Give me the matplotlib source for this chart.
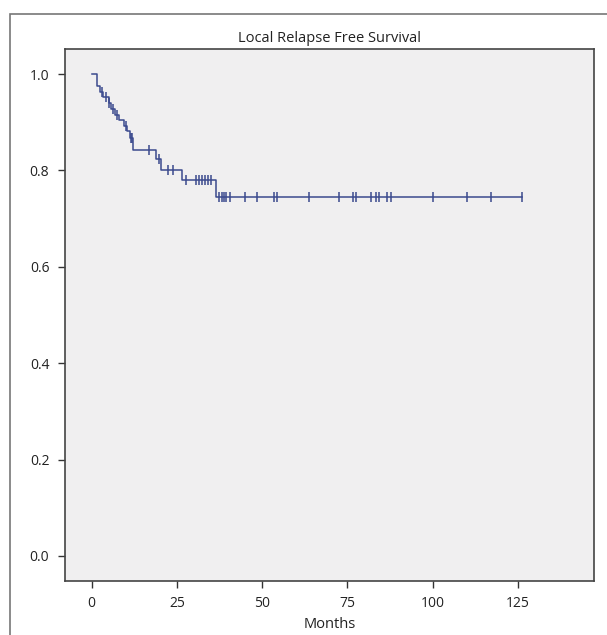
import numpy as np
import matplotlib
matplotlib.use("Agg")
import matplotlib.pyplot as plt
from matplotlib.patches import Rectangle

# step function: time of drop (months) and survival after it
step_times = [0, 1.5, 2.5, 3.5, 5.0, 5.6, 7.0, 8.0, 9.5, 10.5, 11.2, 12.2, 19.0, 20.5, 26.6, 36.5]
step_surv = [1.0, 0.976, 0.963, 0.952, 0.940, 0.928, 0.916, 0.905, 0.893, 0.881, 0.868, 0.843,
             0.824, 0.800, 0.781, 0.745]
# censored observations (months)
censored = [3.0, 4.3, 5.2, 6.2, 7.5, 10.2, 11.5, 12.0, 16.8, 19.8, 22.3, 24.0, 27.7,
            30.5, 31.5, 32.4, 33.3, 34.1, 35.0, 37.4, 38.2, 38.8, 39.4, 40.6, 45.0, 48.4,
            53.5, 54.5, 63.7, 72.6, 76.6, 77.4, 81.8, 83.3, 84.3, 86.7, 87.7, 100.0,
            110.2, 117.0, 126.3]
last_time = 126.3

plt.rcParams['font.family'] = ['Open Sans', 'DejaVu Sans']
line_col = '#3b4a8e'

fig = plt.figure(figsize=(6.07, 6.35), dpi=100)
ax = fig.add_axes([0.1064, 0.085, 0.8722, 0.8378])
ax.set_facecolor('#f0eff0')

xs = step_times + [last_time]
ys = step_surv + [step_surv[-1]]
ax.step(xs, ys, where='post', color=line_col, lw=1.1)

cidx = np.searchsorted(step_times, censored, side='right') - 1
cy = np.array(step_surv)[cidx]
ax.plot(censored, cy, linestyle='none', marker='|', markersize=7, mew=1.1, color=line_col)

ax.set_xlim(-7.9, 147.3)
ax.set_ylim(-0.052, 1.052)
ax.set_xticks([0, 25, 50, 75, 100, 125])
ax.set_yticks([0.0, 0.2, 0.4, 0.6, 0.8, 1.0])
ax.set_yticklabels(['0.0', '0.2', '0.4', '0.6', '0.8', '1.0'])
ax.tick_params(length=5, width=1, color='#333333', labelsize=10, labelcolor='#222222', pad=6)
for s in ax.spines.values():
    s.set_color('#444444')
    s.set_linewidth(1.2)
ax.set_xlabel('Months', fontsize=10.5, color='#222222', labelpad=4)
ax.set_title('Local Relapse Free Survival', fontsize=10.5, color='#222222', pad=5)

# outer frame
fig.add_artist(Rectangle((0.016, -0.02), 1.0, 0.998, transform=fig.transFigure,
                         fill=False, edgecolor='#777777', lw=1.2))

fig.savefig('out.png', dpi=100)
